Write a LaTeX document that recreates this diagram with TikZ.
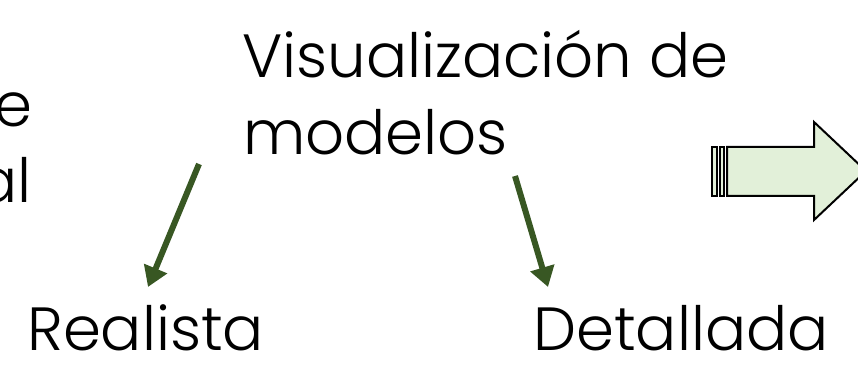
\documentclass[tikz,border=0pt]{standalone}
\usepackage{fontspec}
\setmainfont{Poppins}[UprightFont=* Light]
\usetikzlibrary{arrows.meta}
\definecolor{arrowgreen}{RGB}{56,87,35}
\definecolor{blockfill}{RGB}{226,240,217}

\begin{document}
\begin{tikzpicture}[x=1pt, y=-1pt]
            \tikzstyle{every node} = [inner sep=0pt, font=\fontsize{61}{74}\selectfont]
            \tikzstyle{greenarrow} = [line width=6pt, arrowgreen, -{Triangle[length=20pt, width=24pt]}]
            \tikzstyle{blockarrow} = [line width=2pt, draw=black, fill=blockfill, line join=miter]
            \useasboundingbox (0,0) rectangle (858,379);
            \clip (0,0) rectangle (858,379);

            \node[anchor=base east] (cutde) at (33,127) {e};
            \node[anchor=base east] (cutal) at (32,203) {al};
            \node[anchor=base west] (vistop) at (242,78) {Visualización de};
            \node[anchor=base west] (visbottom) at (243,155) {modelos};
            \node[anchor=base west] (realista) at (27,350) {Realista};
            \node[anchor=base west] (detallada) at (533,350) {Detallada};

            \coordinate (leftfrom) at (199,164);
            \coordinate (leftto) at (148,287);
            \coordinate (rightfrom) at (515,176);
            \coordinate (rightto) at (548,287);
            \draw[greenarrow] (leftfrom) -- (leftto);
            \draw[greenarrow] (rightfrom) -- (rightto);

            \draw[blockarrow] (727,147) -- (814,147) -- (814,122) -- (866,171)
                -- (814,220) -- (814,196) -- (727,196) -- cycle;
            \draw[blockarrow] (712,147) rectangle (717,196);
            \draw[blockarrow] (720,147) rectangle (724,196);
        \end{tikzpicture}
\end{document}
